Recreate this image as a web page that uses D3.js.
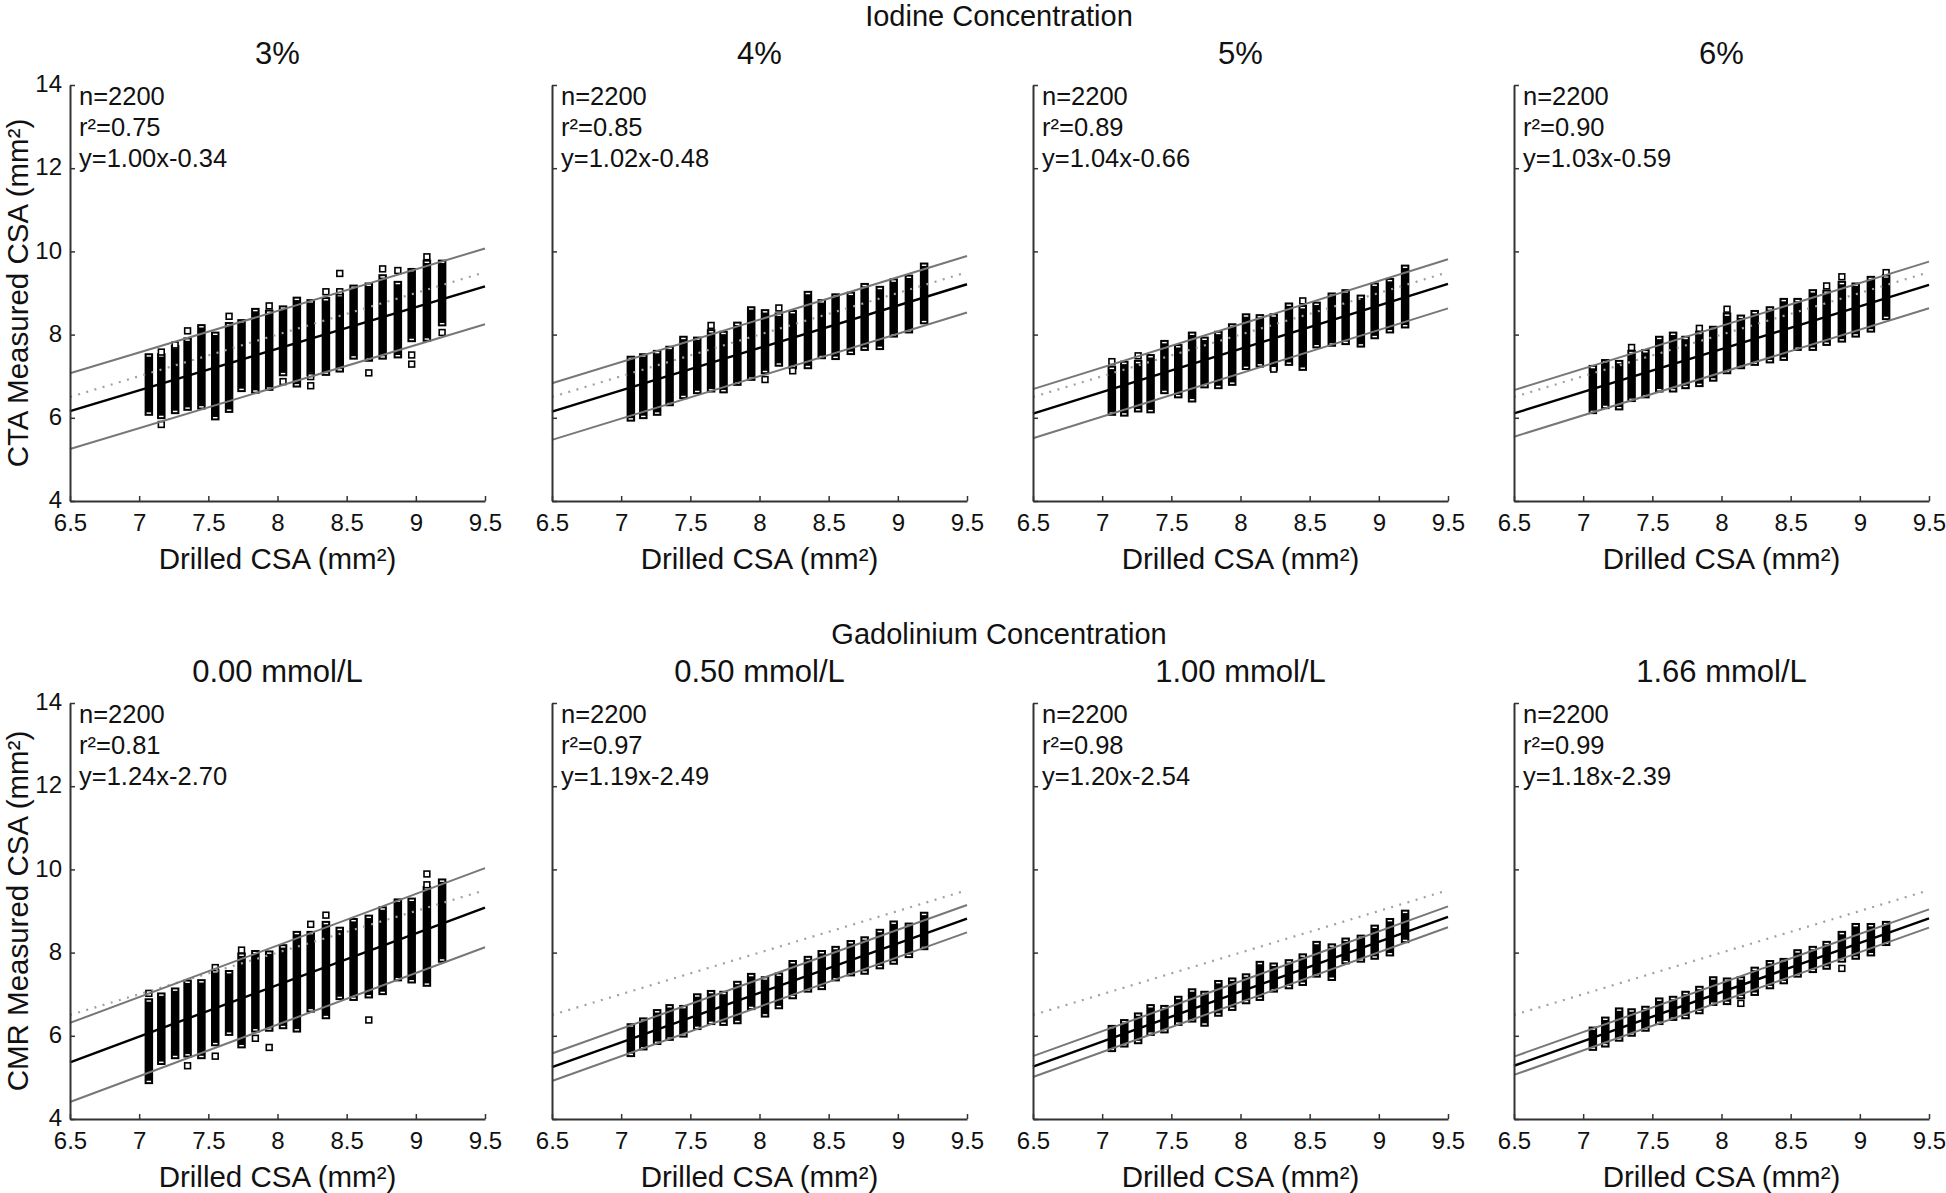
<!DOCTYPE html>
<html>
<head>
<meta charset="utf-8">
<script src="https://cdn.jsdelivr.net/npm/d3@7"></script>
<style>
  html, body { margin: 0; padding: 0; background: #fff; }
  svg { display: block; font-family: "Liberation Sans", Arial, Helvetica, sans-serif; }
</style>
</head>
<body>
<svg id="chart" width="1946" height="1193"></svg>
<script>
// ---------------- data ----------------
const drilledCSA = [7.07, 7.16, 7.26, 7.35, 7.45, 7.55, 7.65, 7.74, 7.84, 7.94, 8.04,
                    8.14, 8.24, 8.35, 8.45, 8.55, 8.66, 8.76, 8.87, 8.97, 9.08, 9.19];

const rowHeaders = ["Iodine Concentration", "Gadolinium Concentration"];
const rowYLabels = ["CTA Measured CSA (mm\u00B2)", "CMR Measured CSA (mm\u00B2)"];
const panelTitles = ["3%", "4%", "5%", "6%", "0.00 mmol/L", "0.50 mmol/L", "1.00 mmol/L", "1.66 mmol/L"];
const nValues = [2200, 2200, 2200, 2200, 2200, 2200, 2200, 2200];
const r2Values = ["0.75", "0.85", "0.89", "0.90", "0.81", "0.97", "0.98", "0.99"];
const fitSlopes = [1.00, 1.02, 1.04, 1.03, 1.24, 1.19, 1.20, 1.18];
const fitIntercepts = [-0.34, -0.48, -0.66, -0.59, -2.70, -2.49, -2.54, -2.39];
const bandHalfWidths = [0.91, 0.68, 0.59, 0.56, 0.95, 0.33, 0.25, 0.22];

const xTicks = [6.5, 7, 7.5, 8, 8.5, 9, 9.5];
const yTicks = [4, 6, 8, 10, 12, 14];
const xLabel = "Drilled CSA (mm\u00B2)";

// dense column ranges (low / high measured value per drilled size)
const cta3Lo = [6.15, 6.07, 6.19, 6.27, 6.30, 6.04, 6.22, 6.72, 6.68, 6.75, 7.10, 6.83, 7.10, 7.11, 7.19, 7.50, 7.45, 7.50, 7.53, 7.92, 7.93, 8.30];
const cta3Hi = [7.45, 7.45, 7.65, 7.83, 8.15, 7.97, 8.20, 8.27, 8.54, 8.50, 8.60, 8.81, 8.75, 8.80, 8.90, 9.10, 9.15, 9.35, 9.19, 9.50, 9.70, 9.70];
const cta3Out = [[7.16, 7.58], [7.16, 5.84], [7.26, 7.75], [7.35, 8.09], [7.65, 8.44], [7.94, 8.69],
                 [8.04, 6.87], [8.24, 6.99], [8.24, 6.77], [8.35, 9.03], [8.45, 9.03], [8.45, 9.47],
                 [8.66, 7.08], [8.76, 9.58], [8.87, 9.54], [8.97, 7.51], [8.97, 7.29], [9.08, 9.87], [9.19, 8.05]];

const cta4Lo = [6.01, 6.07, 6.15, 6.38, 6.55, 6.67, 6.71, 6.69, 6.87, 6.99, 7.15, 7.33, 7.27, 7.27, 7.51, 7.49, 7.61, 7.71, 7.73, 8.03, 8.13, 8.35];
const cta4Hi = [7.39, 7.45, 7.53, 7.63, 7.87, 7.85, 8.03, 7.99, 8.21, 8.58, 8.51, 8.43, 8.49, 8.95, 8.75, 8.89, 8.93, 9.14, 9.07, 9.25, 9.34, 9.63];
const cta4Out = [[7.65, 8.22], [8.04, 6.92], [8.14, 8.64], [8.24, 7.13]];

const cta5Lo = [6.15, 6.13, 6.23, 6.21, 6.67, 6.57, 6.47, 6.81, 6.79, 6.87, 7.25, 7.31, 7.23, 7.35, 7.23, 7.77, 7.81, 7.85, 7.79, 7.99, 8.13, 8.25];
const cta5Hi = [7.15, 7.27, 7.29, 7.43, 7.77, 7.67, 7.97, 7.85, 7.99, 8.17, 8.41, 8.39, 8.41, 8.67, 8.61, 8.69, 8.91, 8.99, 8.86, 9.15, 9.26, 9.58];
const cta5Out = [[7.07, 7.35], [7.26, 7.49], [8.24, 7.17], [8.45, 8.81]];

const cta6Lo = [6.19, 6.31, 6.28, 6.48, 6.57, 6.71, 6.71, 6.79, 6.84, 6.97, 7.15, 7.27, 7.35, 7.41, 7.47, 7.71, 7.71, 7.83, 7.91, 8.03, 8.15, 8.45];
const cta6Hi = [7.17, 7.31, 7.29, 7.53, 7.55, 7.87, 7.97, 7.87, 7.99, 8.11, 8.43, 8.38, 8.49, 8.58, 8.78, 8.78, 8.99, 8.98, 9.19, 9.15, 9.31, 9.35];
const cta6Out = [[7.35, 7.69], [7.84, 8.15], [8.04, 8.61], [8.76, 9.17], [8.87, 9.39], [9.19, 9.49]];

const cmr000Lo = [4.94, 5.40, 5.54, 5.58, 5.54, 5.85, 6.10, 5.80, 6.18, 6.20, 6.26, 6.18, 6.66, 6.50, 6.96, 6.94, 7.00, 7.08, 7.41, 7.36, 7.28, 7.86];
const cmr000Hi = [6.80, 6.94, 7.06, 7.25, 7.26, 7.50, 7.48, 7.90, 7.96, 7.95, 8.10, 8.42, 8.42, 8.66, 8.52, 8.73, 8.81, 9.01, 9.20, 9.22, 9.50, 9.68];
const cmr000Out = [[7.07, 7.02], [7.35, 5.28], [7.55, 7.64], [7.55, 5.51], [7.74, 8.06], [7.84, 5.94],
                   [7.94, 5.72], [8.24, 8.68], [8.35, 8.90], [8.66, 6.38], [9.08, 9.63], [9.08, 9.89]];

const cmr050Lo = [5.59, 5.75, 5.88, 5.98, 6.06, 6.24, 6.36, 6.34, 6.38, 6.72, 6.54, 6.74, 6.98, 7.14, 7.20, 7.41, 7.53, 7.57, 7.70, 7.81, 7.97, 8.16];
const cmr050Hi = [6.20, 6.34, 6.54, 6.66, 6.64, 6.92, 7.00, 6.98, 7.22, 7.41, 7.33, 7.42, 7.72, 7.82, 7.96, 8.06, 8.20, 8.29, 8.47, 8.67, 8.62, 8.88];
const cmr050Out = [];

const cmr100Lo = [5.71, 5.82, 5.90, 6.10, 6.16, 6.34, 6.42, 6.32, 6.56, 6.70, 6.86, 6.94, 7.14, 7.22, 7.30, 7.50, 7.42, 7.82, 7.86, 7.93, 8.01, 8.33];
const cmr100Hi = [6.16, 6.30, 6.46, 6.66, 6.64, 6.86, 7.04, 6.98, 7.24, 7.30, 7.40, 7.70, 7.66, 7.74, 7.88, 8.18, 8.12, 8.26, 8.33, 8.57, 8.73, 8.93];
const cmr100Out = [];

const cmr166Lo = [5.74, 5.82, 5.96, 6.08, 6.20, 6.36, 6.46, 6.50, 6.62, 6.82, 6.84, 6.98, 7.06, 7.22, 7.34, 7.50, 7.61, 7.69, 7.86, 7.93, 8.01, 8.26];
const cmr166Hi = [6.12, 6.36, 6.58, 6.56, 6.62, 6.82, 6.86, 6.98, 7.10, 7.33, 7.30, 7.33, 7.56, 7.72, 7.77, 7.98, 8.06, 8.18, 8.42, 8.61, 8.61, 8.66];
const cmr166Out = [[8.14, 6.78], [8.87, 7.62]];

const panelLo = [cta3Lo, cta4Lo, cta5Lo, cta6Lo, cmr000Lo, cmr050Lo, cmr100Lo, cmr166Lo];
const panelHi = [cta3Hi, cta4Hi, cta5Hi, cta6Hi, cmr000Hi, cmr050Hi, cmr100Hi, cmr166Hi];
const panelOut = [cta3Out, cta4Out, cta5Out, cta6Out, cmr000Out, cmr050Out, cmr100Out, cmr166Out];

// ---------------- layout ----------------
const svg = d3.select("#chart");
const colLefts = [70, 552, 1033, 1514];
const rowTops = [85, 703];
const PW = 415, PH = 416;
const axisColor = "#333";
const barW = 8.5;              // width of a dense column of overlapping markers
const mk = 5.8, mkStroke = 1.6; // single open square marker

rowHeaders.forEach((t, r) => {
  svg.append("text").attr("x", 999).attr("y", rowTops[r] - 59)
    .attr("text-anchor", "middle").attr("font-size", 29).attr("fill", "#111").text(t);
  svg.append("text").attr("transform", `translate(28,${rowTops[r] + PH / 2}) rotate(-90)`)
    .attr("text-anchor", "middle").attr("font-size", 29.5).attr("fill", "#111").text(rowYLabels[r]);
});

panelTitles.forEach((title, i) => {
  const r = Math.floor(i / 4), c = i % 4;
  const left = colLefts[c], top = rowTops[r];
  const x = d3.scaleLinear().domain([6.5, 9.5]).range([left, left + PW]);
  const y = d3.scaleLinear().domain([4, 14]).range([top + PH, top]);
  const g = svg.append("g");

  // title
  g.append("text").attr("x", left + PW / 2).attr("y", top - 21)
    .attr("text-anchor", "middle").attr("font-size", 31).attr("fill", "#111").text(title);

  // dense columns
  const cols = drilledCSA.map((d, k) => ({ x: d, lo: panelLo[i][k], hi: panelHi[i][k] }));
  const cg = g.append("g");
  cg.selectAll("rect.col").data(cols).join("rect").attr("class", "col")
    .attr("x", d => x(d.x) - barW / 2)
    .attr("y", d => y(d.hi) - barW / 2)
    .attr("width", barW)
    .attr("height", d => y(d.lo) - y(d.hi) + barW)
    .attr("fill", "#000");
  // interior slits of the end markers (overlapping open squares)
  cg.selectAll("rect.slitTop").data(cols).join("rect").attr("class", "slitTop")
    .attr("x", d => x(d.x) - barW / 2 + 2)
    .attr("y", d => y(d.hi) - barW / 2 + 2)
    .attr("width", barW - 4).attr("height", 1.4).attr("fill", "#fff");
  cg.selectAll("rect.slitBot").data(cols).join("rect").attr("class", "slitBot")
    .attr("x", d => x(d.x) - barW / 2 + 2)
    .attr("y", d => y(d.lo) + barW / 2 - 3.4)
    .attr("width", barW - 4).attr("height", 1.4).attr("fill", "#fff");

  // isolated points
  g.append("g").selectAll("rect").data(panelOut[i]).join("rect")
    .attr("x", d => x(d[0]) - mk / 2)
    .attr("y", d => y(d[1]) - mk / 2)
    .attr("width", mk).attr("height", mk)
    .attr("fill", "#fff").attr("stroke", "#000").attr("stroke-width", mkStroke);

  // lines
  const line = d3.line().x(d => x(d[0])).y(d => y(d[1]));
  const xs = [6.5, 9.5];
  const m = fitSlopes[i], b = fitIntercepts[i], h = bandHalfWidths[i];
  g.append("path").attr("d", line(xs.map(v => [v, v])))
    .attr("fill", "none").attr("stroke", "#a0a0a0").attr("stroke-width", 2.2)
    .attr("stroke-dasharray", "2,6.5");
  [h, -h].forEach(off => {
    g.append("path").attr("d", line(xs.map(v => [v, m * v + b + off])))
      .attr("fill", "none").attr("stroke", "#777").attr("stroke-width", 2);
  });
  g.append("path").attr("d", line(xs.map(v => [v, m * v + b])))
    .attr("fill", "none").attr("stroke", "#000").attr("stroke-width", 2.4);

  // axes
  const xa = g.append("g").attr("transform", `translate(0,${top + PH})`)
    .call(d3.axisBottom(x).tickValues(xTicks).tickSizeInner(-5).tickSizeOuter(0)
      .tickPadding(13).tickFormat(d => String(d)));
  const ya = g.append("g").attr("transform", `translate(${left},0)`)
    .call(d3.axisLeft(y).tickValues(yTicks).tickSizeInner(-5).tickSizeOuter(0)
      .tickPadding(8).tickFormat(d => (c === 0 ? String(d) : "")));
  [xa, ya].forEach(a => {
    a.select(".domain").attr("stroke", axisColor).attr("stroke-width", 2);
    a.selectAll(".tick line").attr("stroke", axisColor).attr("stroke-width", 1.5);
    a.selectAll(".tick text").attr("fill", "#111").attr("font-size", 24)
      .attr("font-family", "'Liberation Sans', Arial, sans-serif");
  });
  ya.selectAll(".tick text").attr("dy", "0.28em");

  g.append("text").attr("x", left + PW / 2).attr("y", top + PH + 68)
    .attr("text-anchor", "middle").attr("font-size", 29.5).attr("fill", "#111").text(xLabel);

  // annotations
  const ann = [`n=${nValues[i]}`, `r\u00B2=${r2Values[i]}`,
               `y=${fitSlopes[i].toFixed(2)}x${fitIntercepts[i] < 0 ? "-" : "+"}${Math.abs(fitIntercepts[i]).toFixed(2)}`];
  ann.forEach((t, k) => {
    g.append("text").attr("x", left + 9).attr("y", top + 20 + k * 31)
      .attr("font-size", 25.5).attr("fill", "#111").text(t);
  });
});
</script>
</body>
</html>
